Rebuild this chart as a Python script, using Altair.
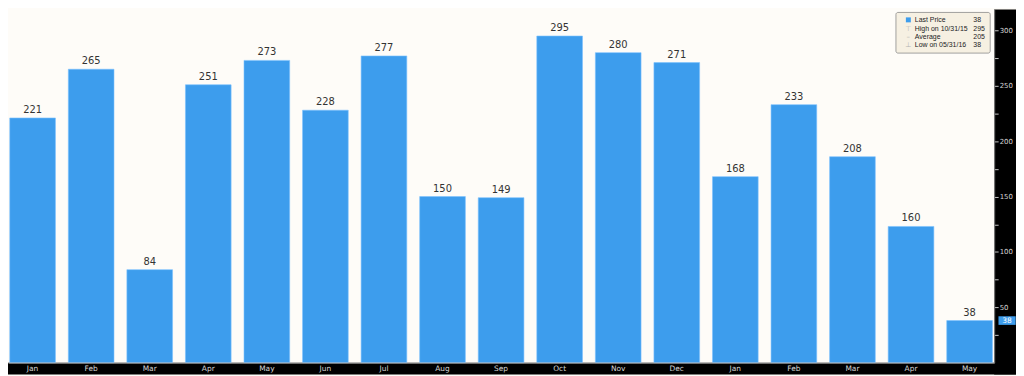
import altair as alt
import pandas as pd

# ---- data ----
months = ["Jan", "Feb", "Mar", "Apr", "May", "Jun", "Jul", "Aug", "Sep", "Oct", "Nov", "Dec",
          "Jan", "Feb", "Mar", "Apr", "May"]
years = ["2015"] * 12 + ["2016"] * 5
prices = [221, 265, 84, 251, 273, 228, 277, 150, 149, 295, 280, 271, 168, 233, 186, 123, 38]
labels = [221, 265, 84, 251, 273, 228, 277, 150, 149, 295, 280, 271, 168, 233, 208, 160, 38]

legend_names = ["Last Price", "High on 10/31/15", "Average", "Low on 05/31/16"]
legend_values = ["38", "295", "205", "38"]
axis_ticks = [25, 50, 75, 100, 125, 150, 175, 200, 225, 250, 275, 300]

W, H = 994, 356
PR = 22
BAR = "#3d9ded"
FONT = "DejaVu Sans"
LFONT = "Liberation Sans"

df = pd.DataFrame({
    "period": [f"{m} {y}" for m, y in zip(months, years)],
    "price": prices,
    "label": labels,
})
order = list(df["period"])

x_axis = alt.Axis(title=None, labelExpr="substring(datum.label, 0, 3)",
                  labelAngle=0, labelColor="#d6d6d6", labelFont=FONT,
                  labelFontSize=7.5, ticks=False, domainColor="#b0b0b0",
                  labelPadding=2, zindex=2)
x_scale = alt.Scale(paddingInner=0.22, paddingOuter=0.03)
y_axis = alt.Axis(title=None, orient="right", values=axis_ticks,
                  labelExpr="datum.value % 50 == 0 ? datum.label : ''",
                  labelOverlap=False, tickSize=4, tickColor="#c8c8c8",
                  domainColor="#808080", labelColor="#d6d6d6", labelFont=FONT,
                  labelFontSize=7, labelPadding=1, grid=False, zindex=2)
y_scale = alt.Scale(domain=[0, 319], nice=False, zero=True)

X = alt.X("period:N", sort=order, scale=x_scale, axis=x_axis)
Y = alt.Y("price:Q", scale=y_scale, axis=y_axis)

one = pd.DataFrame({"k": [0]})

# black frame behind the axes (outside the plot area)
strip_r = alt.Chart(one).mark_rect(color="#000000").encode(
    x=alt.value(W), x2=alt.value(W + PR), y=alt.value(0), y2=alt.value(H + 12))
strip_b = alt.Chart(one).mark_rect(color="#000000").encode(
    x=alt.value(0), x2=alt.value(W + PR), y=alt.value(H), y2=alt.value(H + 12))

bars = alt.Chart(df).mark_bar(color=BAR, stroke="#7cc0ff", strokeWidth=0.6).encode(x=X, y=Y)

texts = alt.Chart(df).mark_text(baseline="bottom", dy=-3, font=FONT, fontSize=10,
                                color="#333333").encode(
    x=X, y=Y, text=alt.Text("label:Q"))

last = df.tail(1)
tag = alt.Chart(last).mark_point(
    shape="M-1,-0.5L1,-0.5L1,0.5L-1,0.5Z", size=300, filled=True, opacity=1,
    color=BAR).encode(x=alt.value(W + PR - 9), y=Y)
tag_text = alt.Chart(last).mark_text(font=FONT, fontSize=7.5, color="#ffffff",
                                     align="center", baseline="middle").encode(
    x=alt.value(W + PR - 9), y=Y, text=alt.Text("price:Q"))

# ---- legend box (top right) ----
box = alt.Chart(one).mark_rect(fill="#f6f0e2", stroke="#8a8a8a", strokeWidth=0.8,
                               cornerRadius=2).encode(
    x=alt.value(895), x2=alt.value(990), y=alt.value(3), y2=alt.value(44))
swatch = alt.Chart(one).mark_rect(color=BAR).encode(
    x=alt.value(905), x2=alt.value(910), y=alt.value(8), y2=alt.value(13))
icons = alt.Chart(one).mark_text(align="center", baseline="middle", font=FONT,
                                 fontSize=7, color="#b0b0b0", lineHeight=8.3).encode(
    x=alt.value(907.5), y=alt.value(19.3),
    text=alt.value(["\u22a4", "\u2013", "\u22a5"]))
leg_names = alt.Chart(one).mark_text(align="left", baseline="middle", font=LFONT,
                                     fontSize=7, color="#222222", lineHeight=8.3).encode(
    x=alt.value(914), y=alt.value(11),
    text=alt.value(legend_names))
leg_vals = alt.Chart(one).mark_text(align="left", baseline="middle", font=LFONT,
                                    fontSize=7, color="#222222", lineHeight=8.3).encode(
    x=alt.value(973), y=alt.value(11),
    text=alt.value(legend_values))

chart = alt.layer(strip_r, strip_b, bars, texts, tag, tag_text, box, swatch, icons,
                  leg_names, leg_vals).properties(
    width=W, height=H,
    autosize=alt.AutoSizeParams(type="none"),
    padding={"left": 0, "top": 0, "right": PR, "bottom": 12},
    background="#fefcf8",
).configure_view(fill="#fefcf8", stroke=None)

chart.save("out.html", embed_options={"renderer": "svg", "actions": False})
